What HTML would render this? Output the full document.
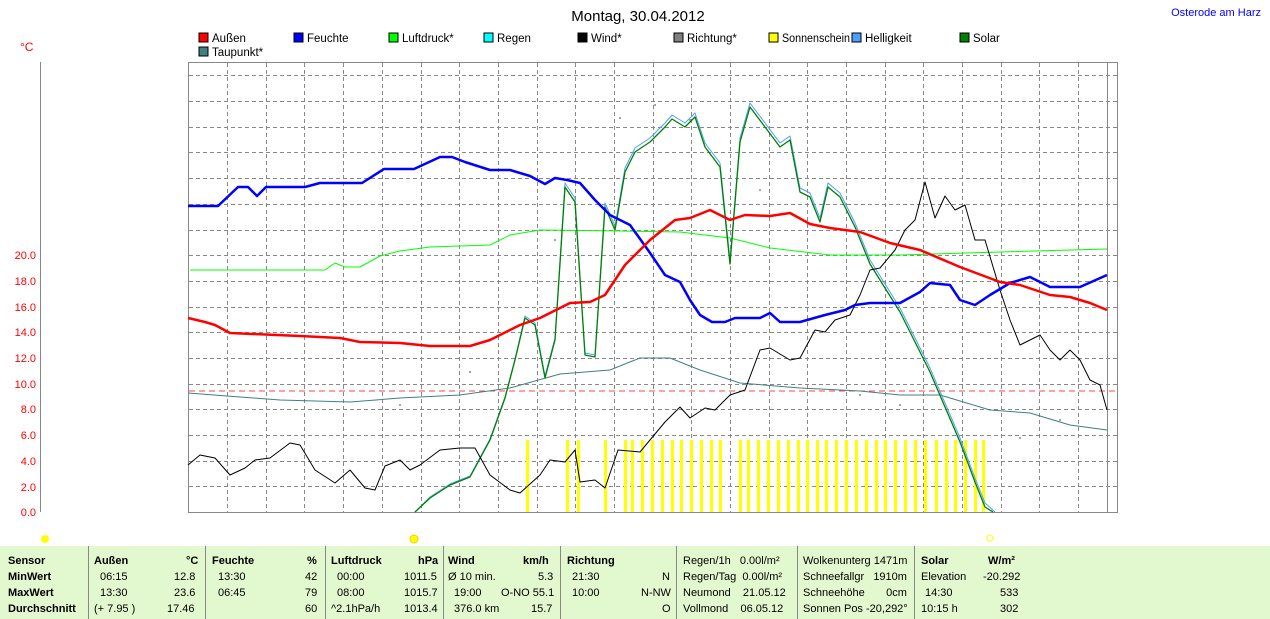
<!DOCTYPE html>
<html><head><meta charset="utf-8"><style>
body{margin:0;width:1270px;height:619px;background:#fff;overflow:hidden;font-family:"Liberation Sans",sans-serif}
svg{position:absolute;left:0;top:0}
#tbl{position:absolute;left:0;top:546px;width:1270px;height:73px;background:#e2f8cf;font-size:11px}
#tbl div{position:absolute;white-space:nowrap}
.b{font-weight:bold}
.sep{position:absolute;top:0;width:1px;height:73px;background:#888}
</style></head><body>
<svg width="1270" height="619" font-family="Liberation Sans, sans-serif">
<text x="638" y="21" font-size="15" text-anchor="middle">Montag, 30.04.2012</text>
<text x="1261" y="16" font-size="11" fill="#0000ff" text-anchor="end">Osterode am Harz</text>
<g font-size="11.5">
<rect x="199" y="33" width="9" height="9" fill="#f00" stroke="#000"/><text x="212" y="42">Außen</text>
<rect x="294" y="33" width="9" height="9" fill="#00f" stroke="#000"/><text x="307" y="42">Feuchte</text>
<rect x="389" y="33" width="9" height="9" fill="#0f0" stroke="#000"/><text x="402" y="42">Luftdruck*</text>
<rect x="484" y="33" width="9" height="9" fill="#0ff" stroke="#000"/><text x="497" y="42">Regen</text>
<rect x="578" y="33" width="9" height="9" fill="#000" stroke="#000"/><text x="591" y="42">Wind*</text>
<rect x="674" y="33" width="9" height="9" fill="#808080" stroke="#000"/><text x="687" y="42">Richtung*</text>
<rect x="769" y="33" width="9" height="9" fill="#ff0" stroke="#000"/><text x="782" y="42" textLength="68" lengthAdjust="spacingAndGlyphs">Sonnenschein</text>
<rect x="852" y="33" width="9" height="9" fill="#4d9fff" stroke="#000"/><text x="865" y="42">Helligkeit</text>
<rect x="960" y="33" width="9" height="9" fill="#008000" stroke="#000"/><text x="973" y="42">Solar</text>
<rect x="199" y="47" width="9" height="9" fill="#408080" stroke="#000"/><text x="212" y="56">Taupunkt*</text>
</g>
<text x="20" y="51" font-size="12" fill="#f00">°C</text>
<line x1="40.5" y1="62" x2="40.5" y2="512" stroke="#888"/>
<g font-size="11" fill="#f00" text-anchor="end">
<text x="36" y="259">20.0</text><text x="36" y="285">18.0</text><text x="36" y="311">16.0</text><text x="36" y="336">14.0</text><text x="36" y="362">12.0</text><text x="36" y="388">10.0</text><text x="36" y="413">8.0</text><text x="36" y="439">6.0</text><text x="36" y="465">4.0</text><text x="36" y="491">2.0</text><text x="36" y="516">0.0</text>
</g>
<rect x="188.5" y="62.5" width="929" height="450" fill="#fff" stroke="#888"/>
<g stroke="#888" stroke-dasharray="4,3">
<path d="M189 75.5H1117M189 101.5H1117M189 127.5H1117M189 152.5H1117M189 178.5H1117M189 204.5H1117M189 230.5H1117M189 255.5H1117M189 281.5H1117M189 307.5H1117M189 332.5H1117M189 358.5H1117M189 384.5H1117M189 409.5H1117M189 435.5H1117M189 461.5H1117M189 486.5H1117"/>
<path d="M227.5 63V512M266.5 63V512M304.5 63V512M343.5 63V512M382.5 63V512M421.5 63V512M459.5 63V512M498.5 63V512M537.5 63V512M575.5 63V512M614.5 63V512M653.5 63V512M691.5 63V512M730.5 63V512M769.5 63V512M807.5 63V512M846.5 63V512M885.5 63V512M923.5 63V512M962.5 63V512M1001.5 63V512M1039.5 63V512M1078.5 63V512"/>
</g>
<line x1="1107.5" y1="63" x2="1107.5" y2="512" stroke="#888"/>
<line x1="189" y1="391" x2="1117" y2="391" stroke="#f44" stroke-dasharray="6,4"/>
<g fill="#ff0">
<rect x="526" y="440" width="3" height="72"/><rect x="566" y="440" width="3" height="72"/><rect x="577" y="440" width="3" height="72"/><rect x="604" y="440" width="3" height="72"/><rect x="624" y="440" width="3" height="72"/><rect x="631" y="440" width="3" height="72"/><rect x="641" y="440" width="3" height="72"/><rect x="651" y="440" width="3" height="72"/><rect x="661" y="440" width="3" height="72"/><rect x="671" y="440" width="3" height="72"/><rect x="680" y="440" width="3" height="72"/><rect x="690" y="440" width="3" height="72"/><rect x="700" y="440" width="3" height="72"/><rect x="710" y="440" width="3" height="72"/><rect x="719" y="440" width="3" height="72"/><rect x="739" y="440" width="3" height="72"/><rect x="747" y="440" width="3" height="72"/><rect x="757" y="440" width="3" height="72"/><rect x="767" y="440" width="3" height="72"/><rect x="777" y="440" width="3" height="72"/><rect x="787" y="440" width="3" height="72"/><rect x="797" y="440" width="3" height="72"/><rect x="806" y="440" width="3" height="72"/><rect x="816" y="440" width="3" height="72"/><rect x="825" y="440" width="3" height="72"/><rect x="835" y="440" width="3" height="72"/><rect x="845" y="440" width="3" height="72"/><rect x="855" y="440" width="3" height="72"/><rect x="865" y="440" width="3" height="72"/><rect x="875" y="440" width="3" height="72"/><rect x="884" y="440" width="3" height="72"/><rect x="894" y="440" width="3" height="72"/><rect x="904" y="440" width="3" height="72"/><rect x="914" y="440" width="3" height="72"/><rect x="924" y="440" width="3" height="72"/><rect x="935" y="440" width="3" height="72"/><rect x="945" y="440" width="3" height="72"/><rect x="954" y="440" width="3" height="72"/><rect x="964" y="440" width="3" height="72"/><rect x="974" y="440" width="3" height="72"/><rect x="982" y="440" width="3" height="72"/>
</g>
<g fill="none" stroke-linejoin="round">
<polyline stroke="#408080" stroke-width="1" points="188,393 280,400 350,402 400,398 460,395 510,388 560,374 610,370 640,358 670,358 700,370 740,383 800,388 860,391 900,395 940,395 990,410 1030,413 1070,425 1107,430"/>
<polyline stroke="#0f0" stroke-width="1" points="190,270 325,270 335,263 345,267 360,267 380,256 400,251 430,247 490,245 510,235 540,230 620,231 680,232 730,238 770,248 830,255 900,255 1000,252 1107,249"/>
<polyline stroke="#4d9fff" stroke-width="1" points="415,512 430,497 450,484 470,476 490,439 505,397 515,359 525,316 535,323 545,376 555,338 565,183 575,198 585,353 595,355 605,203 615,226 625,168 635,148 650,138 665,123 672,115 685,123 695,113 705,143 720,163 730,260 740,138 750,103 765,123 780,143 790,136 800,188 810,193 820,218 828,183 840,193 855,223 870,260 900,308 930,368 960,438 975,478 985,503 995,512"/>
<polyline stroke="#008000" stroke-width="1.3" points="415,512 430,498 450,485 470,477 490,440 505,398 515,360 525,318 535,325 545,378 555,340 565,187 575,202 585,355 595,357 605,207 615,230 625,172 635,152 650,142 665,127 672,119 685,127 695,117 705,147 720,167 730,264 740,142 750,107 765,127 780,147 790,140 800,192 810,197 820,222 828,187 840,197 855,227 870,264 900,312 930,372 960,442 975,482 985,507 993,512"/>
<polyline stroke="#000" stroke-width="1" points="188,465 200,455 215,458 230,475 245,468 255,460 270,458 290,443 300,445 315,470 335,483 350,470 365,488 375,490 385,466 400,460 410,470 420,465 440,450 460,448 475,448 490,475 510,490 520,493 540,475 550,460 565,462 575,450 580,482 595,480 605,488 618,450 640,452 650,440 665,422 680,407 690,418 705,408 715,410 730,395 745,390 760,350 770,348 790,360 800,358 815,330 825,332 835,320 850,315 860,295 870,270 880,268 895,250 905,230 915,220 925,182 935,218 945,196 955,210 965,205 975,240 985,240 1000,290 1010,320 1020,345 1040,335 1050,350 1060,360 1070,350 1080,360 1090,380 1100,385 1107,410"/>
<polyline stroke="#00f" stroke-width="2.5" points="188,206 218,206 238,187 248,187 257,196 266,187 305,187 320,183 362,183 384,169 414,169 440,157 452,157 465,162 490,170 510,170 530,176 545,184 555,178 567,180 580,183 595,200 610,215 630,225 648,250 665,275 680,282 690,300 700,315 712,322 725,322 735,318 760,318 770,313 780,322 800,322 825,315 845,310 855,305 870,303 900,303 920,292 930,283 950,285 960,300 975,305 990,295 1010,283 1030,277 1050,287 1080,287 1107,275"/>
<polyline stroke="#f00" stroke-width="2.5" points="188,318 205,322 215,325 230,333 300,336 340,338 360,342 400,343 430,346 470,346 490,340 520,325 540,318 570,303 590,302 605,295 625,265 650,240 675,220 690,218 710,210 730,220 745,215 770,216 790,213 810,224 830,228 860,232 890,243 920,250 960,267 1000,282 1020,285 1050,295 1070,297 1090,303 1107,310"/>
</g>
<g fill="#888"><circle cx="620" cy="118" r="1"/><circle cx="655" cy="105" r="1"/><circle cx="690" cy="120" r="1"/><circle cx="555" cy="240" r="1"/><circle cx="470" cy="372" r="1"/><circle cx="400" cy="405" r="1"/><circle cx="760" cy="190" r="1"/><circle cx="860" cy="395" r="1"/><circle cx="900" cy="405" r="1"/><circle cx="1020" cy="438" r="1"/><circle cx="1060" cy="420" r="1"/></g>
<circle cx="45" cy="539" r="4" fill="#ff0"/>
<circle cx="414" cy="539" r="4" fill="#ff0" stroke="#fc0"/>
<circle cx="990" cy="538" r="3" fill="#fff" stroke="#ff0"/>
</svg>
<div id="tbl">
<div class="sep" style="left:88px"></div><div class="sep" style="left:205px"></div><div class="sep" style="left:325px"></div><div class="sep" style="left:443px"></div><div class="sep" style="left:560px"></div><div class="sep" style="left:676px"></div><div class="sep" style="left:797px"></div><div class="sep" style="left:914px"></div>
<div class="b" style="left:8px;top:9px">Sensor</div><div class="b" style="left:8px;top:25px">MinWert</div><div class="b" style="left:8px;top:41px">MaxWert</div><div class="b" style="left:8px;top:57px">Durchschnitt</div>
<div class="b" style="left:94px;top:9px">Außen</div><div class="b" style="left:186px;top:9px">°C</div>
<div style="left:100px;top:25px">06:15</div><div style="left:174px;top:25px">12.8</div>
<div style="left:100px;top:41px">13:30</div><div style="left:174px;top:41px">23.6</div>
<div style="left:94px;top:57px">(+ 7.95 )</div><div style="left:167px;top:57px">17.46</div>
<div class="b" style="left:212px;top:9px">Feuchte</div><div class="b" style="left:307px;top:9px">%</div>
<div style="left:218px;top:25px">13:30</div><div style="left:305px;top:25px">42</div>
<div style="left:218px;top:41px">06:45</div><div style="left:305px;top:41px">79</div>
<div style="left:305px;top:57px">60</div>
<div class="b" style="left:331px;top:9px">Luftdruck</div><div class="b" style="left:418px;top:9px">hPa</div>
<div style="left:337px;top:25px">00:00</div><div style="left:404px;top:25px">1011.5</div>
<div style="left:337px;top:41px">08:00</div><div style="left:404px;top:41px">1015.7</div>
<div style="left:331px;top:57px">^2.1hPa/h</div><div style="left:404px;top:57px">1013.4</div>
<div class="b" style="left:448px;top:9px">Wind</div><div class="b" style="left:523px;top:9px">km/h</div>
<div style="left:448px;top:25px">Ø 10 min.</div><div style="left:538px;top:25px">5.3</div>
<div style="left:454px;top:41px">19:00</div><div style="left:501px;top:41px">O-NO 55.1</div>
<div style="left:454px;top:57px">376.0 km</div><div style="left:531px;top:57px">15.7</div>
<div class="b" style="left:567px;top:9px">Richtung</div>
<div style="left:572px;top:25px">21:30</div><div style="left:662px;top:25px">N</div>
<div style="left:572px;top:41px">10:00</div><div style="left:641px;top:41px">N-NW</div>
<div style="left:662px;top:57px">O</div>
<div style="left:683px;top:9px">Regen/1h &nbsp;&nbsp;0.00l/m²</div>
<div style="left:683px;top:25px">Regen/Tag &nbsp;0.00l/m²</div>
<div style="left:683px;top:41px">Neumond &nbsp;&nbsp;&nbsp;21.05.12</div>
<div style="left:683px;top:57px">Vollmond &nbsp;&nbsp;&nbsp;06.05.12</div>
<div style="left:803px;top:9px">Wolkenunterg 1471m</div>
<div style="left:803px;top:25px">Schneefallgr &nbsp;&nbsp;1910m</div>
<div style="left:803px;top:41px">Schneehöhe &nbsp;&nbsp;&nbsp;&nbsp;&nbsp;&nbsp;0cm</div>
<div style="left:803px;top:57px">Sonnen Pos -20,292°</div>
<div class="b" style="left:921px;top:9px">Solar</div><div class="b" style="left:988px;top:9px">W/m²</div>
<div style="left:921px;top:25px">Elevation</div><div style="left:983px;top:25px">-20.292</div>
<div style="left:925px;top:41px">14:30</div><div style="left:1000px;top:41px">533</div>
<div style="left:921px;top:57px">10:15 h</div><div style="left:1000px;top:57px">302</div>
</div>
</body></html>
